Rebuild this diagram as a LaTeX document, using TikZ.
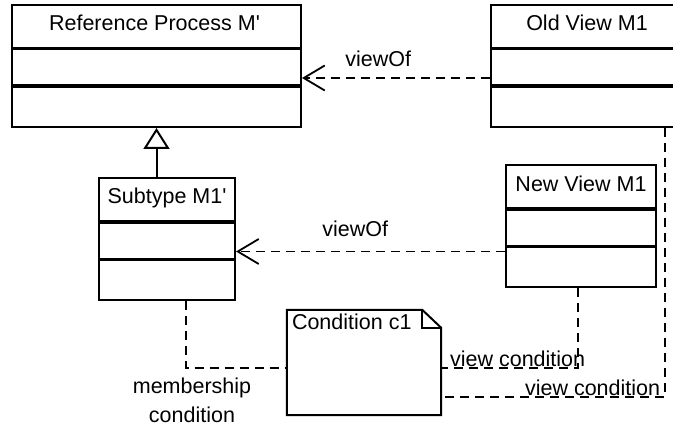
\documentclass[tikz,border=0pt]{standalone}
\usepackage{fontspec}
\newfontfamily\umlfont{Liberation Sans}
\usetikzlibrary{arrows.meta,calc}
\tikzset{
  classbox/.style={rectangle, draw=black, line width=2pt, minimum height=122pt, inner sep=0pt},
  ctitle/.style={anchor=base, inner sep=0pt},
  sepline/.style={line width=3.5pt},
  notebox/.style={rectangle, inner sep=0pt, minimum width=154pt, minimum height=105pt},
  noteline/.style={line width=2pt, line join=miter},
  lbl/.style={inner sep=0pt},
  viewof/.style={-{Straight Barb[length=21pt,width=25pt]}, line width=1.8pt, dash pattern=on 9pt off 6pt},
  assoc/.style={line width=1.8pt, dash pattern=on 9pt off 6pt},
  inherit/.style={-{Triangle[open,length=21pt,width=26pt]}, line width=2pt},
}
% the two compartment lines of a class box
\newcommand{\compartments}[1]{%
  \draw[sepline] ($(#1.north west)+(0,44.5)$) -- ($(#1.north east)+(0,44.5)$);
  \draw[sepline] ($(#1.north west)+(0,82)$) -- ($(#1.north east)+(0,82)$);
}

\begin{document}
\begin{tikzpicture}[x=1pt,y=-1pt, font=\umlfont\fontsize{21.5}{26}\selectfont]
\path[use as bounding box, clip] (0,0) rectangle (673,430);

\node[classbox, minimum width=289pt] (ref)  at (156.5,66)  {};
\node[classbox, minimum width=192pt] (oldv) at (587,66)    {};
\node[classbox, minimum width=136pt] (subt) at (167,239.5) {};
\node[classbox, minimum width=150pt] (newv) at (581,226.5) {};
\foreach \c in {ref,oldv,subt,newv} {\compartments{\c}}

\node[ctitle] (reft)  at ($(ref.north)+(-2,27)$)  {Reference Process M'};
\node[ctitle] (oldvt) at ($(oldv.north)+(0,27)$)  {Old View M1};
\node[ctitle] (subtt) at ($(subt.north)+(0,26)$)  {Subtype M1'};
\node[ctitle] (newvt) at ($(newv.north)+(0,27)$)  {New View M1};

% note with folded corner
\node[notebox] (note) at (364,362.5) {};
\draw[noteline] (note.north west) -- ([xshift=-19pt]note.north east) -- ([yshift=-18pt]note.north east)
  -- (note.south east) -- (note.south west) -- cycle;
\draw[noteline] ([xshift=-19pt]note.north east) |- ([yshift=-18pt]note.north east);
\node[anchor=base west, inner sep=0pt] (notet) at ($(note.north west)+(5,20)$) {Condition c1};

\draw[inherit] (subt.north -| ref.south) -- (ref.south);

\draw[viewof] ([yshift=-12pt]oldv.west) -- node[lbl, pos=0.595, above=10pt] (vo1) {viewOf} ([yshift=-12pt]ref.east);
\draw[viewof] ([yshift=-25pt]newv.west) -- node[lbl, pos=0.557, above=14pt] (vo2) {viewOf} ([yshift=-12pt]subt.east);

\draw[assoc] ([xshift=19pt]subt.south) |- node[lbl, pos=0.5, below=9pt, xshift=6pt, align=center] (memb)
  {membership\\[3pt]condition} ([yshift=-5.5pt]note.west);
\draw[assoc] ([xshift=-3pt]newv.south) |- node[lbl, pos=1, anchor=south west, xshift=8pt] (vc1)
  {view condition} ([yshift=-5.5pt]note.east);
\draw[assoc] ([xshift=78pt]oldv.south) |- node[lbl, pos=0.5, anchor=south east, xshift=-4pt] (vc2)
  {view condition} ([yshift=-34.5pt]note.east);
\end{tikzpicture}
\end{document}
